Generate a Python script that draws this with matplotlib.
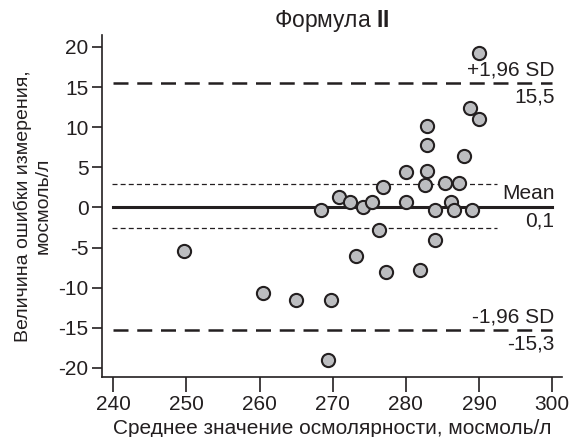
import numpy as np
import matplotlib
matplotlib.use("Agg")
import matplotlib.pyplot as plt

plt.rcParams['font.family'] = ['Liberation Sans', 'DejaVu Sans']
plt.rcParams['mathtext.fontset'] = 'custom'
plt.rcParams['mathtext.bf'] = 'Liberation Sans:bold'
plt.rcParams['mathtext.rm'] = 'Liberation Sans'

# Средние значения и разности
x_mean = [249.6, 260.4, 265.0, 268.4, 269.4, 269.8, 270.9, 272.3, 273.2, 274.2,
          275.4, 276.3, 276.8, 277.3, 280.0, 280.0, 281.9, 282.6, 282.9, 282.9,
          282.9, 284.0, 284.0, 285.4, 286.2, 286.6, 287.3, 288.0, 288.7, 289.0,
          290.0, 290.0]
y_diff = [-5.4, -10.7, -11.6, -0.35, -19.0, -11.6, 1.35, 0.73, -6.1, 0.02,
          0.73, -2.85, 2.5, -8.1, 4.4, 0.73, -7.8, 2.8, 10.1, 7.8,
          4.6, -0.35, -4.1, 3.1, 0.73, -0.35, 3.1, 6.4, 12.4, -0.35,
          19.2, 11.0]

mean_diff = 0.1
upper_sd = 15.5
lower_sd = -15.3
ci_hi = 2.9
ci_lo = -2.6

xticks = [240, 250, 260, 270, 280, 290, 300]
yticks = [-20, -15, -10, -5, 0, 5, 10, 15, 20]

ink = '#231f20'
fs = 15

fig = plt.figure(figsize=(5.72, 4.37), dpi=100)
ax = fig.add_axes([0.179, 0.138, 0.803, 0.782])

ax.plot([240, 300], [upper_sd, upper_sd], color=ink, lw=1.8, dashes=(6, 3.5))
ax.plot([240, 300], [lower_sd, lower_sd], color=ink, lw=1.8, dashes=(6, 3.5))
ax.plot([240, 300], [mean_diff, mean_diff], color=ink, lw=2.2)
ax.plot([239.8, 292.5], [ci_hi, ci_hi], color=ink, lw=0.9, dashes=(4, 2.5))
ax.plot([239.8, 292.5], [ci_lo, ci_lo], color=ink, lw=0.9, dashes=(4, 2.5))

ax.scatter(x_mean, y_diff, s=90, facecolor='#bcbdc0', edgecolor=ink,
           linewidth=1.5, zorder=3)

xr = 300.3
ax.text(xr, upper_sd + 0.5, '+1,96 SD', ha='right', va='bottom', fontsize=fs, color=ink)
ax.text(xr, upper_sd - 0.6, '15,5', ha='right', va='top', fontsize=fs, color=ink)
ax.text(xr, mean_diff + 0.5, 'Mean', ha='right', va='bottom', fontsize=fs, color=ink)
ax.text(xr, mean_diff - 0.6, '0,1', ha='right', va='top', fontsize=fs, color=ink)
ax.text(xr, lower_sd + 0.5, '-1,96 SD', ha='right', va='bottom', fontsize=fs, color=ink)
ax.text(xr, lower_sd - 0.6, '-15,3', ha='right', va='top', fontsize=fs, color=ink)

ax.set_xlim(238.5, 301.3)
ax.set_ylim(-21.1, 21.5)
ax.set_xticks(xticks)
ax.set_yticks(yticks)
ax.set_xticklabels([str(v) for v in xticks])
ax.set_yticklabels([str(v) for v in yticks])
ax.tick_params(axis='x', length=11, width=1.2, colors=ink, labelsize=fs, pad=2)
ax.tick_params(axis='y', length=7, width=1.2, colors=ink, labelsize=fs, pad=3)
for s in ['top', 'right']:
    ax.spines[s].set_visible(False)
for s in ['left', 'bottom']:
    ax.spines[s].set_color(ink)
    ax.spines[s].set_linewidth(1.2)

ax.set_title(r'Формула $\mathbf{II}$', fontsize=16.5, color=ink, pad=6)
ax.set_xlabel('Среднее значение осмолярности, мосмоль/л', fontsize=fs, color=ink, labelpad=4)
ax.set_ylabel('Величина ошибки измерения,\nмосмоль/л', fontsize=14, color=ink, labelpad=5)

fig.savefig('out.png', dpi=100)
